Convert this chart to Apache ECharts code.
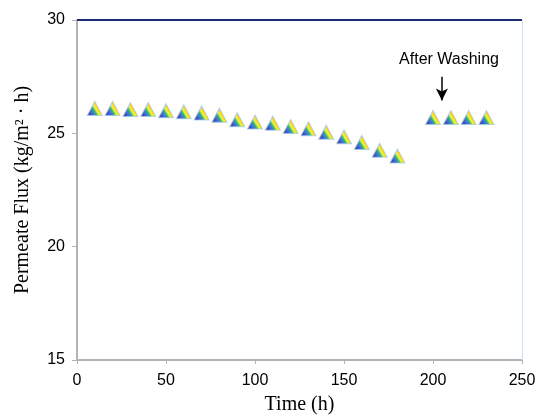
<!DOCTYPE html>
<html>
<head>
<meta charset="utf-8">
<script src="https://cdn.jsdelivr.net/npm/echarts@6/dist/echarts.min.js"></script>
<style>
  html, body { margin: 0; padding: 0; background: #fff; }
  #chart { width: 542px; height: 420px; }
</style>
</head>
<body>
<div id="chart"></div>
<script>
const timeBefore = [10, 20, 30, 40, 50, 60, 70, 80, 90, 100, 110, 120, 130, 140, 150, 160, 170, 180];
const fluxBefore = [26.1, 26.1, 26.05, 26.05, 26.0, 25.95, 25.9, 25.8, 25.6, 25.5, 25.45, 25.3, 25.2, 25.05, 24.85, 24.6, 24.25, 24.0];
const timeAfter = [200, 210, 220, 230];
const fluxAfter = [25.7, 25.7, 25.7, 25.7];
const xTicks = [0, 50, 100, 150, 200, 250];
const yTicks = [15, 20, 25, 30];

const chart = echarts.init(document.getElementById('chart'));

// rainbow-ish triangle fill: blue bottom-left -> green -> yellow/orange right
const markerColor = new echarts.graphic.LinearGradient(0.15, 0.85, 0.85, 0.45, [
  { offset: 0, color: '#0818a0' },
  { offset: 0.25, color: '#0850d8' },
  { offset: 0.45, color: '#08a030' },
  { offset: 0.62, color: '#f4f000' },
  { offset: 1, color: '#f88a10' }
]);

const points = timeBefore.map((t, i) => [t, fluxBefore[i]])
  .concat(timeAfter.map((t, i) => [t, fluxAfter[i]]));

chart.setOption({
  animation: false,
  grid: { left: 77, right: 20, top: 20, bottom: 54 },
  xAxis: {
    type: 'value',
    min: xTicks[0],
    max: xTicks[xTicks.length - 1],
    interval: 50,
    name: 'Time (h)',
    nameLocation: 'middle',
    nameGap: 35,
    nameTextStyle: { fontFamily: 'Liberation Serif', fontSize: 20, color: '#000' },
    axisLine: { lineStyle: { color: '#b4b4b4', width: 2 } },
    axisTick: { show: true, length: 4, lineStyle: { color: '#b4b4b4' } },
    axisLabel: { fontFamily: 'Liberation Sans', fontSize: 16, color: '#000', margin: 13 },
    splitLine: { show: false }
  },
  yAxis: {
    type: 'value',
    min: yTicks[0],
    max: yTicks[yTicks.length - 1],
    interval: 5,
    name: 'Permeate Flux (kg/m\u00b2 \u00b7 h)',
    nameLocation: 'middle',
    nameGap: 44,
    nameTextStyle: { fontFamily: 'Liberation Serif', fontSize: 20, color: '#000' },
    axisLine: { show: true, lineStyle: { color: '#b4b4b4', width: 2 } },
    axisTick: { show: true, length: 5, lineStyle: { color: '#b4b4b4' } },
    axisLabel: { fontFamily: 'Liberation Sans', fontSize: 16, color: '#000', margin: 12 },
    splitLine: { show: false }
  },
  series: [
    {
      type: 'scatter',
      symbol: 'triangle',
      symbolSize: [15, 14],
      itemStyle: { color: markerColor, borderColor: '#a4c8f0', borderWidth: 1 },
      data: points,
      markLine: {
        silent: true,
        symbol: 'none',
        label: { show: false },
        data: [
          { yAxis: 30, lineStyle: { color: '#1c2e78', width: 2, type: 'solid' } },
          { xAxis: 250, lineStyle: { color: '#d4dfea', width: 1, type: 'solid' } }
        ]
      }
    },
    {
      type: 'line',
      data: [],
      markLine: {
        silent: true,
        symbol: ['none', 'arrow'],
        symbolSize: [9, 12],
        label: { show: false },
        lineStyle: { color: '#000', width: 1.5, type: 'solid' },
        data: [[{ coord: [205, 27.5] }, { coord: [205, 26.45] }]]
      },
      markPoint: {
        symbol: 'circle',
        symbolSize: 0,
        label: {
          show: true,
          formatter: 'After Washing',
          fontFamily: 'Liberation Sans',
          fontSize: 16,
          color: '#000'
        },
        data: [{ coord: [209, 28.25] }]
      }
    }
  ]
});
</script>
</body>
</html>
